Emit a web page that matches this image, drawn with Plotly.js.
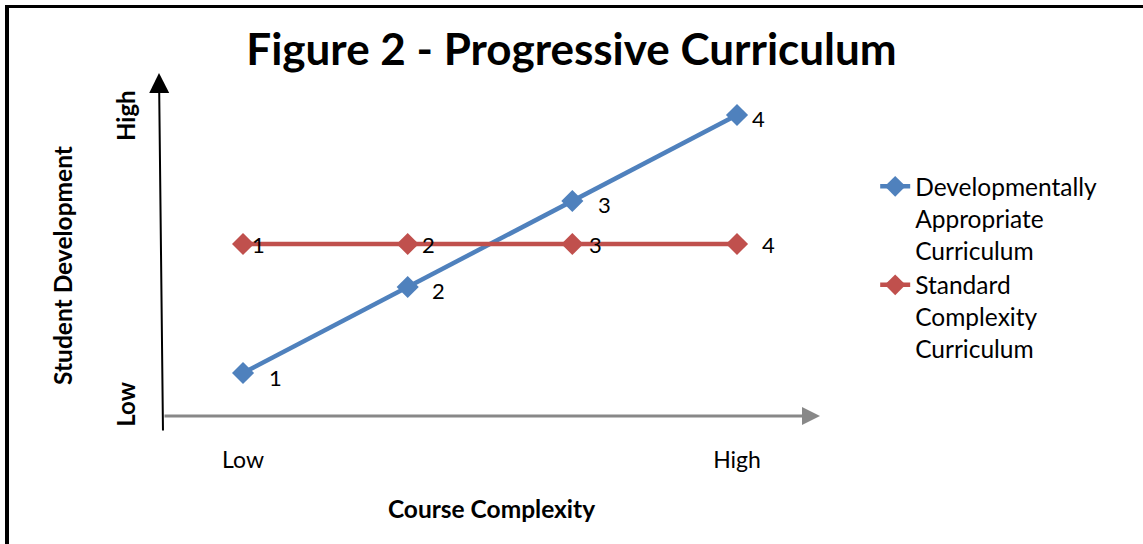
<!DOCTYPE html>
<html>
<head>
<meta charset="utf-8">
<script src="https://cdn.plot.ly/plotly-3.0.1.min.js"></script>
<style>
html,body{margin:0;padding:0;background:#fff;}
#chart{width:1143px;height:544px;position:relative;}
#bt{position:absolute;left:5px;top:5px;width:1138px;height:3px;background:#000;}
#bl{position:absolute;left:5px;top:5px;width:4px;height:539px;background:#000;}
</style>
</head>
<body>
<div id="chart"></div>
<div id="bt"></div><div id="bl"></div>
<script>
// Data
const stages = [1, 2, 3, 4];
const stageLabels = ['1', '2', '3', '4'];
const developmental = [1, 2, 3, 4];
const standard = [2.5, 2.5, 2.5, 2.5];
const xTickVals = [1, 4];
const xTickText = ['Low', 'High'];
const yTickVals = [0.593, 3.95];
const yTickText = ['Low', 'High'];

// Styles
const blue = '#4f81bd', red = '#c0504d';
const font = 'Lato, "Open Sans", sans-serif';
const blueShift = [32, 31, 32, 21];
const redShift = [15, 21, 23, 31];

const traces = [
  {x: stages, y: developmental, name: 'Developmentally<br>Appropriate<br>Curriculum',
   mode: 'lines+markers', line: {color: blue, width: 4.5},
   marker: {symbol: 'diamond', size: 17, color: blue}, cliponaxis: false},
  {x: stages, y: standard, name: 'Standard<br>Complexity<br>Curriculum',
   mode: 'lines+markers', line: {color: red, width: 4.5},
   marker: {symbol: 'diamond', size: 17, color: red}, cliponaxis: false}
];

const annotations = [];
stages.forEach((s, i) => {
  annotations.push({x: s, y: developmental[i], text: stageLabels[i], showarrow: false,
    xshift: blueShift[i], yshift: -4, font: {family: font, size: 22, color: '#000'}});
  annotations.push({x: s, y: standard[i], text: stageLabels[i], showarrow: false,
    xshift: redShift[i], yshift: -1, font: {family: font, size: 22, color: '#000'}});
});
// axis arrows
annotations.push({x: 4.504, y: 0.5, ax: 0.514, ay: 0.5, xref: 'x', yref: 'y', axref: 'x', ayref: 'y',
  showarrow: true, arrowhead: 2, arrowsize: 1.2, arrowwidth: 3, arrowcolor: '#888888', text: ''});
annotations.push({x: 0.4897, y: 4.488, ax: 0.514, ay: 0.314, xref: 'x', yref: 'y', axref: 'x', ayref: 'y',
  showarrow: true, arrowhead: 2, arrowsize: 2.0, arrowwidth: 2, arrowcolor: '#000000', text: ''});
// y-axis title
annotations.push({xref: 'paper', yref: 'paper', x: -0.154, y: 0.44, xanchor: 'center', yanchor: 'middle',
  text: '<b>Student Development</b>', textangle: -90, showarrow: false,
  font: {family: font, size: 24.5, color: '#000'}});

const layout = {
  width: 1143, height: 544,
  margin: {l: 163, r: 323, t: 73, b: 128},
  paper_bgcolor: '#fff', plot_bgcolor: '#fff',
  showlegend: true,
  title: {text: '<b>Figure 2 - Progressive Curriculum</b>', x: 0.5, xref: 'container', xanchor: 'center',
    y: 0.908, yanchor: 'middle', font: {family: font, size: 44, color: '#000'}},
  xaxis: {range: [0.514, 4.504], showgrid: false, zeroline: false, showline: false,
    tickvals: xTickVals, ticktext: xTickText, ticks: '', ticklabelstandoff: 28,
    tickfont: {family: font, size: 23, color: '#000'},
    title: {text: '<b>Course Complexity</b>', standoff: 28, font: {family: font, size: 24.5, color: '#000'}}},
  yaxis: {range: [0.5, 4.488], showgrid: false, zeroline: false, showline: false,
    tickvals: yTickVals, ticktext: yTickText.map(t => '<b>' + t + '</b>'), ticks: '', tickangle: -90,
    ticklabelstandoff: 22, tickfont: {family: font, size: 24, color: '#000'}},
  legend: {x: 1.084, xanchor: 'left', y: 0.735, yanchor: 'top', valign: 'top',
    font: {family: font, size: 24.5, color: '#000'},
    tracegroupgap: 7, bgcolor: 'rgba(0,0,0,0)'},
  annotations: annotations
};

Plotly.newPlot('chart', traces, layout, {displayModeBar: false, staticPlot: true});
</script>
</body>
</html>
